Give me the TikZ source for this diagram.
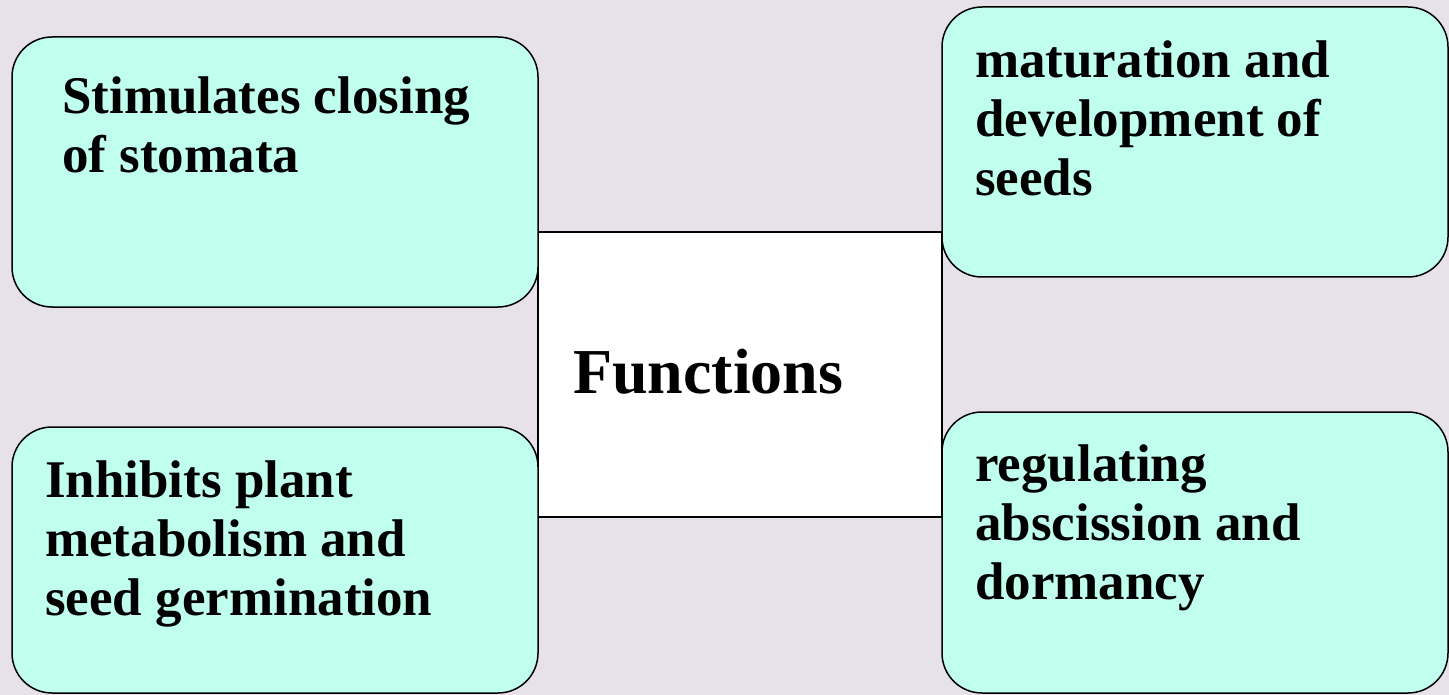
\documentclass[tikz,border=0pt]{standalone}
\usepackage{fontspec}
\setmainfont{Liberation Serif}
\usetikzlibrary{positioning}
\definecolor{bgcol}{RGB}{231,225,234}
\definecolor{boxcol}{RGB}{192,255,237}

\begin{document}
\begin{tikzpicture}[x=1pt, y=-1pt, box/.style={draw, line width=1.5pt, rounded corners=40pt, fill=boxcol, inner sep=0pt}, txt/.style={anchor=north west, inner sep=0pt, align=left, font=\bfseries\fontsize{53}{59}\selectfont}]
\fill[bgcol] (0,0) rectangle (1449,695);
\useasboundingbox (0,0) rectangle (1449,695);
% centre panel
\node[draw, line width=1.5pt, fill=white, minimum width=404pt, minimum height=285pt] (mid) at (740,374.5) {};
\node[anchor=base west, inner sep=0pt, font=\bfseries\fontsize{64}{70}\selectfont] (fn) at (573,393) {Functions};
% the four boxes
\node[box, minimum width=526pt, minimum height=270pt] (stoma) at (275,172) {};
\node[box, minimum width=526pt, minimum height=266pt] (inhib) at (275,560) {};
\node[box, minimum width=506pt, minimum height=270pt] (seeds) at (1195,142) {};
\node[box, minimum width=506pt, minimum height=281pt] (absc) at (1195,552.5) {};
\node[txt] (stomatxt) at (62,77) {Stimulates closing\\of stomata};
\node[txt] (inhibtxt) at (45,461) {Inhibits plant\\metabolism and\\seed germination};
\node[txt] (seedstxt) at (975,41) {maturation and\\development of\\seeds};
\node[txt] (absctxt) at (975,445) {regulating\\abscission and\\dormancy};
\end{tikzpicture}
\end{document}
